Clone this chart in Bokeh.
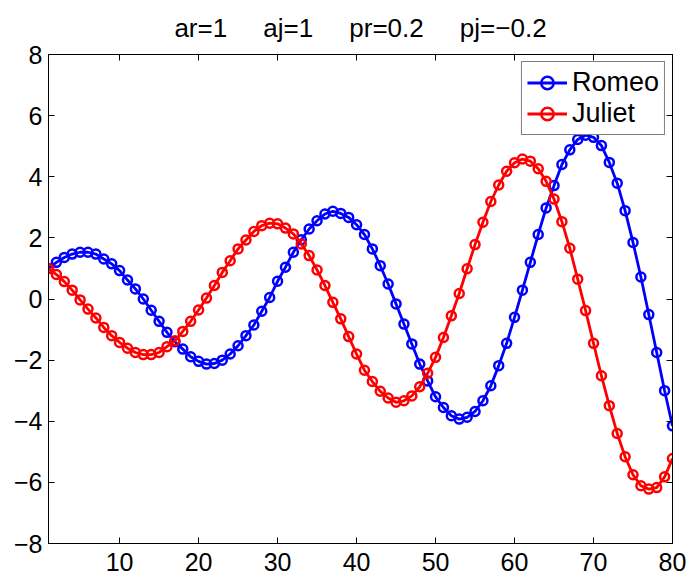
from bokeh.plotting import figure
from bokeh.models import LinearAxis, Range1d, Legend, LegendItem, FixedTicker
from bokeh.embed import file_html
from bokeh.resources import INLINE

GAP = "\u00a0" * 5
title_text = "ar=1" + GAP + "aj=1" + GAP + "pr=0.2" + GAP + "pj=\u22120.2"

steps = list(range(1, 81))

romeo = [1.00, 1.20, 1.36, 1.47, 1.53, 1.53, 1.47, 1.31, 1.15, 0.93,
         0.62, 0.33, 0.00, -0.37, -0.73, -1.09, -1.40, -1.64, -1.89, -2.04,
         -2.13, -2.11, -2.00, -1.80, -1.53, -1.20, -0.85, -0.40, 0.05, 0.58,
         1.04, 1.53, 1.94, 2.29, 2.56, 2.78, 2.87, 2.80, 2.67, 2.43,
         2.11, 1.64, 1.09, 0.49, -0.16, -0.82, -1.47, -2.13, -2.68, -3.20,
         -3.55, -3.82, -3.93, -3.87, -3.68, -3.33, -2.84, -2.18, -1.45, -0.60,
         0.29, 1.20, 2.11, 2.98, 3.71, 4.40, 4.88, 5.22, 5.36, 5.29,
         5.02, 4.47, 3.79, 2.89, 1.85, 0.72, -0.51, -1.75, -3.00, -4.15]

juliet = [1.00, 0.80, 0.57, 0.29, -0.03, -0.33, -0.62, -0.93, -1.20, -1.42,
          -1.61, -1.75, -1.82, -1.82, -1.75, -1.56, -1.37, -1.06, -0.73, -0.36,
          0.03, 0.44, 0.87, 1.25, 1.64, 1.93, 2.21, 2.40, 2.48, 2.46,
          2.32, 2.13, 1.80, 1.42, 0.95, 0.44, -0.11, -0.65, -1.23, -1.80,
          -2.33, -2.70, -3.02, -3.24, -3.38, -3.33, -3.17, -2.87, -2.43, -1.91,
          -1.26, -0.55, 0.18, 0.99, 1.78, 2.51, 3.19, 3.73, 4.18, 4.46,
          4.58, 4.51, 4.26, 3.85, 3.27, 2.53, 1.66, 0.65, -0.38, -1.45,
          -2.51, -3.49, -4.40, -5.16, -5.75, -6.11, -6.22, -6.17, -5.82, -5.22]

x_ticks = [10, 20, 30, 40, 50, 60, 70, 80]
x_tick_labels = ["10", "20", "30", "40", "50", "60", "70", "80"]
y_ticks = [-8, -6, -4, -2, 0, 2, 4, 6, 8]
y_tick_labels = ["\u22128", "\u22126", "\u22124", "\u22122", "0", "2", "4", "6", "8"]

FONT = "Liberation Sans"
BLUE = "#0000FF"
RED = "#FF0000"

p = figure(width=689, height=582, x_range=Range1d(1, 80), y_range=Range1d(-8, 8),
           output_backend="svg", toolbar_location=None,
           min_border_left=48, min_border_right=17, min_border_top=54, min_border_bottom=39)
p.background_fill_color = "white"
p.border_fill_color = "white"
p.outline_line_color = "black"
p.grid.visible = False

p.title.text = title_text
p.title.align = "center"
p.title.vertical_align = "top"
p.title.text_font = FONT
p.title.text_font_size = "26px"
p.title.text_font_style = "normal"
p.title.text_color = "black"
p.title.standoff = 19


def style_axis(ax, ticks, labels, show_labels):
    ax.ticker = FixedTicker(ticks=ticks)
    ax.major_tick_in = 6
    ax.major_tick_out = 0
    ax.minor_tick_line_color = None
    ax.axis_line_color = "black"
    ax.axis_line_width = 1
    ax.major_tick_line_color = "black"
    ax.major_label_text_font = FONT
    if show_labels:
        ax.major_label_overrides = {t: l for t, l in zip(ticks, labels)}
        ax.major_label_text_font_size = "25px"
        ax.major_label_text_color = "black"
    else:
        ax.major_label_overrides = {t: "" for t in ticks}
        ax.major_label_text_font_size = "1px"
        ax.major_label_text_color = None
        ax.major_label_standoff = 0


style_axis(p.xaxis[0], x_ticks, x_tick_labels, True)
p.xaxis[0].major_label_standoff = 9
style_axis(p.yaxis[0], y_ticks, y_tick_labels, True)
p.yaxis[0].major_label_standoff = 6

top_axis = LinearAxis()
style_axis(top_axis, x_ticks, x_tick_labels, False)
p.add_layout(top_axis, "above")
right_axis = LinearAxis()
style_axis(right_axis, y_ticks, y_tick_labels, False)
p.add_layout(right_axis, "right")

r_line = p.line(steps, romeo, line_color=BLUE, line_width=2.8)
r_mark = p.scatter(steps, romeo, marker="circle", size=9, line_color=BLUE,
                   fill_color=None, line_width=2.5)
j_line = p.line(steps, juliet, line_color=RED, line_width=2.8)
j_mark = p.scatter(steps, juliet, marker="circle", size=9, line_color=RED,
                   fill_color=None, line_width=2.5)

legend = Legend(items=[LegendItem(label="Romeo", renderers=[r_line, r_mark]),
                       LegendItem(label="Juliet", renderers=[j_line, j_mark])],
                location="top_right")
legend.margin = 7
legend.padding = 5
legend.spacing = 0
legend.label_height = 31
legend.glyph_height = 31
legend.glyph_width = 40
legend.label_standoff = 5
legend.label_text_font = FONT
legend.label_text_font_size = "27px"
legend.label_text_color = "black"
legend.border_line_color = "black"
legend.border_line_width = 1
legend.background_fill_color = "white"
legend.background_fill_alpha = 1.0
p.add_layout(legend)

open("out.html", "w").write(file_html(p, INLINE))
